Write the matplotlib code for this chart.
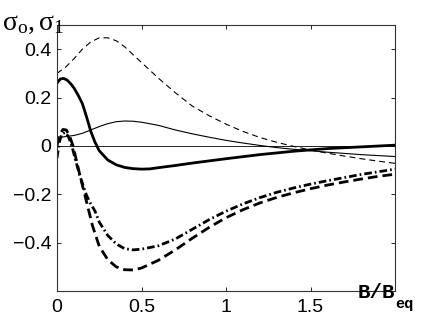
import matplotlib
matplotlib.use("Agg")
import matplotlib.pyplot as plt

# values (x = B/B_eq)
x_thin_dash = [0, 0.05, 0.1, 0.15, 0.2, 0.25, 0.3, 0.35, 0.4, 0.5, 0.6, 0.7, 0.8,
               0.9, 1.0, 1.1, 1.2, 1.3, 1.4, 1.5, 1.6, 1.7, 1.8, 1.9, 2.0]
y_thin_dash = [0.300, 0.325, 0.36, 0.40, 0.43, 0.447, 0.447, 0.435, 0.41, 0.345, 0.28,
               0.22, 0.165, 0.125, 0.09, 0.06, 0.035, 0.015, -0.002, -0.017, -0.03,
               -0.042, -0.053, -0.063, -0.072]

x_thick_solid = [0, 0.02, 0.04, 0.06, 0.08, 0.1, 0.125, 0.15, 0.175, 0.2, 0.225, 0.25,
                 0.3, 0.35, 0.4, 0.45, 0.5, 0.55, 0.6, 0.7, 0.8, 0.9, 1.0, 1.2, 1.4,
                 1.6, 1.8, 2.0]
y_thick_solid = [0.26, 0.277, 0.279, 0.272, 0.258, 0.24, 0.21, 0.175, 0.12, 0.06, 0.015,
                 -0.02, -0.058, -0.078, -0.089, -0.094, -0.096, -0.095, -0.09, -0.081,
                 -0.071, -0.062, -0.053, -0.036, -0.022, -0.011, -0.004, 0.003]

x_thin_solid = [0, 0.03, 0.06, 0.1, 0.15, 0.2, 0.25, 0.3, 0.35, 0.4, 0.45, 0.5, 0.6,
                0.7, 0.8, 0.9, 1.0, 1.1, 1.2, 1.3, 1.4, 1.5, 1.6, 1.7, 1.8, 1.9, 2.0]
y_thin_solid = [0.025, 0.036, 0.04, 0.043, 0.052, 0.066, 0.08, 0.092, 0.1, 0.103, 0.102,
                0.098, 0.085, 0.066, 0.05, 0.036, 0.023, 0.012, 0.002, -0.007, -0.014,
                -0.02, -0.026, -0.031, -0.036, -0.04, -0.044]

x_dashdot = [0, 0.015, 0.03, 0.05, 0.07, 0.09, 0.11, 0.13, 0.15, 0.175, 0.2, 0.225,
             0.25, 0.3, 0.35, 0.4, 0.45, 0.5, 0.6, 0.7, 0.8, 0.9, 1.0, 1.1, 1.2, 1.3,
             1.4, 1.5, 1.6, 1.7, 1.8, 1.9, 2.0]
y_dashdot = [-0.05, 0.02, 0.05, 0.056, 0.035, -0.005, -0.06, -0.11, -0.155, -0.205,
             -0.24, -0.27, -0.315, -0.37, -0.405, -0.425, -0.43, -0.427, -0.413, -0.385,
             -0.345, -0.305, -0.27, -0.24, -0.214, -0.192, -0.174, -0.158, -0.144,
             -0.131, -0.118, -0.107, -0.096]

x_thick_dash = [0, 0.015, 0.035, 0.055, 0.075, 0.095, 0.115, 0.135, 0.16, 0.185, 0.21,
                0.25, 0.3, 0.35, 0.4, 0.45, 0.5, 0.6, 0.7, 0.8, 0.9, 1.0, 1.1, 1.2,
                1.3, 1.4, 1.5, 1.6, 1.7, 1.8, 1.9, 2.0]
y_thick_dash = [0.0, 0.045, 0.068, 0.066, 0.04, 0.0, -0.06, -0.12, -0.19, -0.26, -0.33,
                -0.415, -0.47, -0.5, -0.512, -0.513, -0.505, -0.473, -0.43, -0.382,
                -0.337, -0.297, -0.264, -0.236, -0.213, -0.194, -0.177, -0.162, -0.149,
                -0.137, -0.126, -0.117]

xticks = [0, 0.5, 1, 1.5, 2]
xticklabels = ['0', '0.5', '1', '1.5', '']
yticks = [-0.4, -0.2, 0, 0.2, 0.4]
yticklabels = ['\u22120.4', '\u22120.2', '0', '0.2', '0.4']

plt.rcParams['font.family'] = 'Liberation Sans'
plt.rcParams['mathtext.fontset'] = 'custom'
plt.rcParams['mathtext.rm'] = 'Liberation Serif'
plt.rcParams['mathtext.it'] = 'Liberation Serif'
plt.rcParams['lines.scale_dashes'] = False

fig = plt.figure(figsize=(4.36, 3.28), dpi=100)
ax = fig.add_axes([57 / 436, 1 - 291 / 328, 338 / 436, 266 / 328])

ax.axhline(0, color='k', lw=0.6)
ax.plot(x_thin_dash, y_thin_dash, color='k', lw=0.8, dashes=(4.3, 2.9))
ax.plot(x_thin_solid, y_thin_solid, color='k', lw=0.8)
ax.plot(x_thick_solid, y_thick_solid, color='k', lw=2.0)
ax.plot(x_dashdot, y_dashdot, color='k', lw=2.0, dashes=(5.5, 2.2, 1.2, 2.2))
ax.plot(x_thick_dash, y_thick_dash, color='k', lw=2.0, dashes=(7, 3.6))

ax.set_xlim(0, 2)
ax.set_ylim(-0.6, 0.5)
ax.set_xticks(xticks)
ax.set_xticklabels(xticklabels)
ax.set_yticks(yticks)
ax.set_yticklabels(yticklabels)
ax.tick_params(direction='in', length=3, width=0.6, top=True, right=True,
               labelsize=14, pad=4)
ax.tick_params(axis='x', pad=6)
for s in ax.spines.values():
    s.set_linewidth(0.8)
    s.set_color('#333333')

fig.text(2 / 436, 1 - 30 / 328, r'$\mathrm{σ}_\mathrm{o},\mathrm{σ}_\mathrm{1}$',
         fontsize=20, va='baseline', ha='left')
fig.text(358 / 436, 1 - 298 / 328, 'B/B', family='Liberation Mono',
         weight='bold', fontsize=15, va='baseline', ha='left')
fig.text(395 / 436, 1 - 308 / 328, 'eq', family='Liberation Mono',
         weight='bold', fontsize=11, va='baseline', ha='left')

fig.savefig('out.png', dpi=100)
